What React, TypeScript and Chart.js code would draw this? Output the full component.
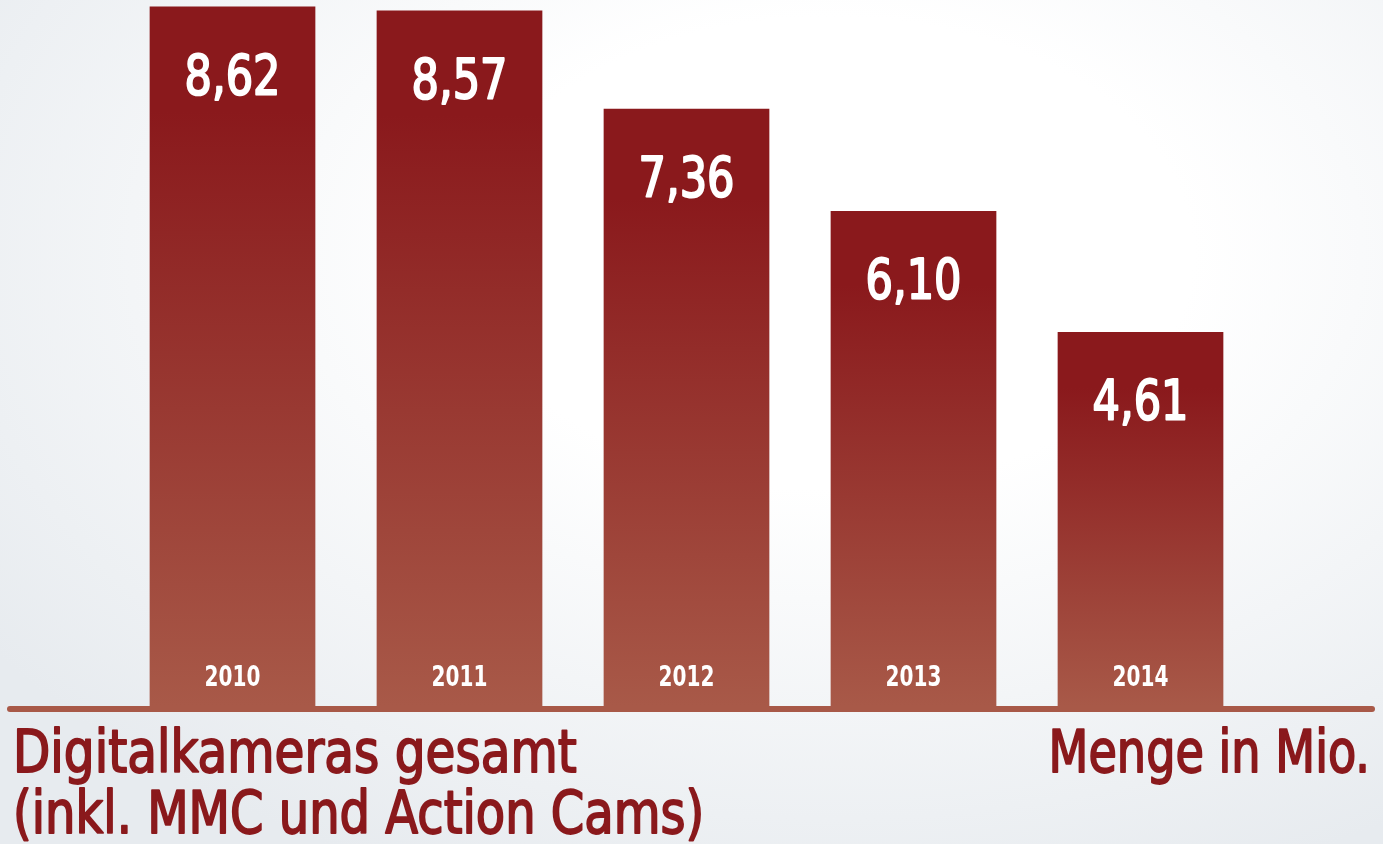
import React, { useEffect, useRef } from "react";
import { Chart, registerables } from "chart.js";

Chart.register(...registerables);

const years = ["2010", "2011", "2012", "2013", "2014"];
const values = [8.62, 8.57, 7.36, 6.1, 4.61];
const valueLabels = ["8,62", "8,57", "7,36", "6,10", "4,61"];
const titleLines = ["Digitalkameras gesamt", "(inkl. MMC und Action Cams)"];
const unitLabel = "Menge in Mio.";

const DARK = "rgb(138,25,28)";
const LIGHT = "rgb(168,89,72)";
const FONT = '"DejaVu Sans Condensed", "DejaVu Sans", sans-serif';

function scaledText(ctx: any, text: string, x: number, y: number, sx: number, stroke: number) {
  ctx.save();
  ctx.translate(x, y);
  ctx.scale(sx, 1);
  ctx.fillText(text, 0, 0);
  if (stroke > 0) {
    ctx.lineWidth = stroke;
    ctx.lineJoin = "round";
    ctx.strokeStyle = ctx.fillStyle;
    ctx.strokeText(text, 0, 0);
  }
  ctx.restore();
}

const labelPlugin = {
  id: "labels",
  afterDatasetsDraw(chart: any) {
    const ctx = chart.ctx;
    const meta = chart.getDatasetMeta(0);
    const y0 = chart.scales.y.getPixelForValue(0);
    ctx.save();
    // axis line
    ctx.strokeStyle = LIGHT;
    ctx.lineWidth = 6;
    ctx.lineCap = "round";
    ctx.beginPath();
    ctx.moveTo(10, y0 + 3);
    ctx.lineTo(1372, y0 + 3);
    ctx.stroke();

    ctx.fillStyle = "#ffffff";
    ctx.textAlign = "center";
    ctx.textBaseline = "middle";
    meta.data.forEach((bar: any, i: number) => {
      ctx.font = `55px ${FONT}`;
      scaledText(ctx, valueLabels[i], bar.x, bar.y + 73, 0.87, 2);
      ctx.font = `bold 29px ${FONT}`;
      scaledText(ctx, years[i], bar.x, y0 - 28, 0.77, 0);
    });

    ctx.fillStyle = DARK;
    ctx.textBaseline = "alphabetic";
    ctx.font = `58px ${FONT}`;
    ctx.textAlign = "left";
    scaledText(ctx, titleLines[0], 13, 772, 0.93, 1.8);
    scaledText(ctx, titleLines[1], 13, 833, 0.92, 1.8);
    ctx.textAlign = "right";
    scaledText(ctx, unitLabel, 1370, 772, 0.885, 1.8);
    ctx.restore();
  },
};

export default function App() {
  const ref = useRef<HTMLCanvasElement>(null);
  useEffect(() => {
    document.body.style.margin = "0";
    const chart = new Chart(ref.current!, {
      type: "bar",
      data: {
        labels: years,
        datasets: [
          {
            data: values,
            barPercentage: 0.73,
            categoryPercentage: 1,
            borderWidth: 0,
            backgroundColor: (c: any) => {
              const ch = c.chart;
              const area = ch.chartArea;
              if (!area || c.dataIndex === undefined) return DARK;
              const yScale = ch.scales.y;
              const top = yScale.getPixelForValue(values[c.dataIndex]);
              const bottom = yScale.getPixelForValue(0);
              const g = ch.ctx.createLinearGradient(0, top, 0, bottom);
              g.addColorStop(0, DARK);
              g.addColorStop(0.15, DARK);
              g.addColorStop(1, LIGHT);
              return g;
            },
          },
        ],
      },
      options: {
        animation: false,
        responsive: false,
        layout: { padding: { left: 119, right: 129, top: 0, bottom: 138 } },
        plugins: { legend: { display: false }, tooltip: { enabled: false } },
        scales: {
          x: { display: false },
          y: { display: false, min: 0, max: 8.7 },
        },
      },
      plugins: [labelPlugin],
    });
    return () => chart.destroy();
  }, []);
  return (
    <div
      style={{
        position: "absolute",
        left: 0,
        top: 0,
        width: 1383,
        height: 844,
        background:
          "radial-gradient(ellipse 75% 80% at 60% 30%, #ffffff 35%, #e7ebef 100%)",
      }}
    >
      <canvas ref={ref} width={1383} height={844} />
    </div>
  );
}
